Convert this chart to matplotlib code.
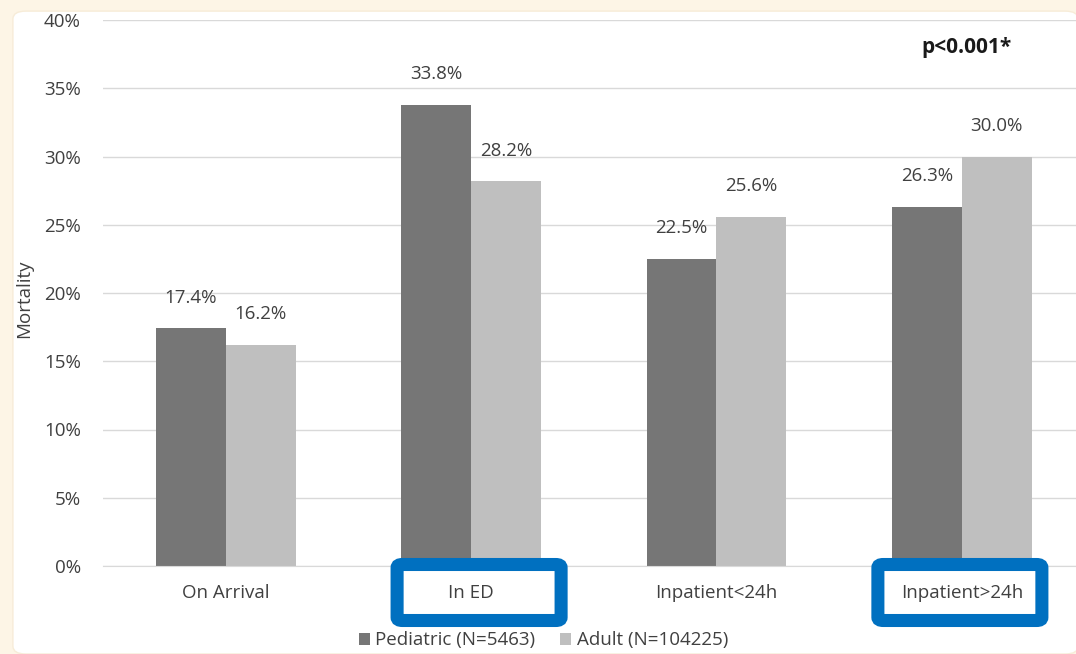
import numpy as np
import matplotlib.pyplot as plt
from matplotlib.patches import FancyBboxPatch
from matplotlib.ticker import PercentFormatter

categories = ["On Arrival", "In ED", "Inpatient<24h", "Inpatient>24h"]
pediatric = [17.4, 33.8, 22.5, 26.3]
adult = [16.2, 28.2, 25.6, 30.0]
highlighted = {"In ED": 8, "Inpatient>24h": -2}  # label -> box shift in px

plt.rcParams['font.family'] = ['Open Sans', 'DejaVu Sans']
text_col = "#404040"
W, H = 1076, 654

fig = plt.figure(figsize=(10.76, 6.54), dpi=100, facecolor="#fdf5e6")
# white panel with rounded corners
panel = FancyBboxPatch((0.012, 0.0), 0.99, 0.983, boxstyle="round,pad=0,rounding_size=0.012",
                       transform=fig.transFigure, facecolor="white", edgecolor="#f7ecd8",
                       linewidth=1, zorder=-5)
fig.patches.append(panel)

ax = fig.add_axes([103 / W, 88 / H, (W - 103) / W, 546 / H])
ax.set_facecolor("none")
ax.set_zorder(2)

x = np.arange(len(categories))
w = 0.285
b1 = ax.bar(x - w / 2, pediatric, w, color="#767676", label="Pediatric (N=5463)", zorder=2)
b2 = ax.bar(x + w / 2, adult, w, color="#bfbfbf", label="Adult (N=104225)", zorder=2)

for bars, vals in [(b1, pediatric), (b2, adult)]:
    for rect, v in zip(bars, vals):
        ax.annotate(f"{v:.1f}%", (rect.get_x() + rect.get_width() / 2, v),
                    xytext=(0, 22), textcoords="offset points", ha="center", va="center",
                    fontsize=13.5, color=text_col)

ax.set_xlim(-0.5, 3.465)
ax.set_ylim(0, 40)
ax.set_yticks(range(0, 41, 5))
ax.yaxis.set_major_formatter(PercentFormatter(decimals=0))
ax.grid(axis="y", color="#d9d9d9", linewidth=1, zorder=0)
for s in ax.spines.values():
    s.set_visible(False)
ax.spines["bottom"].set_visible(True)
ax.spines["bottom"].set_color("#d9d9d9")
ax.tick_params(axis="both", length=0, labelsize=13.5, colors=text_col)
ax.tick_params(axis="y", pad=16)
ax.tick_params(axis="x", pad=13)
ax.set_xticks(x)
ax.set_xticklabels(categories)
ax.set_ylabel("Mortality", fontsize=13.5, color=text_col)
ax.yaxis.set_label_coords(-0.072, 0.49)

ax.text(0.887, 0.949, "p<0.001*", transform=ax.transAxes, ha="center", va="center",
        fontsize=15, fontweight="bold", color="#1a1a1a")

# blue highlight boxes around selected category labels
fig.canvas.draw()
for cat, shift in highlighted.items():
    i = categories.index(cat)
    cx = (ax.transData.transform((i, 0))[0] + shift) / W
    bw, bh = 164 / W, 56 / H
    box = FancyBboxPatch((cx - bw / 2, (H - 620.5) / H), bw, bh,
                         boxstyle="round,pad=0,rounding_size=0.005",
                         transform=fig.transFigure, facecolor="none",
                         edgecolor="#0070c0", linewidth=9.4, zorder=5)
    fig.patches.append(box)

fig.legend(handles=[b1, b2], loc="center", bbox_to_anchor=(0.505, 0.021), ncol=2,
           frameon=False, fontsize=13.5, handlelength=0.6, handleheight=0.6,
           handletextpad=0.3, columnspacing=1.3, labelcolor=text_col)

fig.savefig("out.png", dpi=100, facecolor=fig.get_facecolor())
